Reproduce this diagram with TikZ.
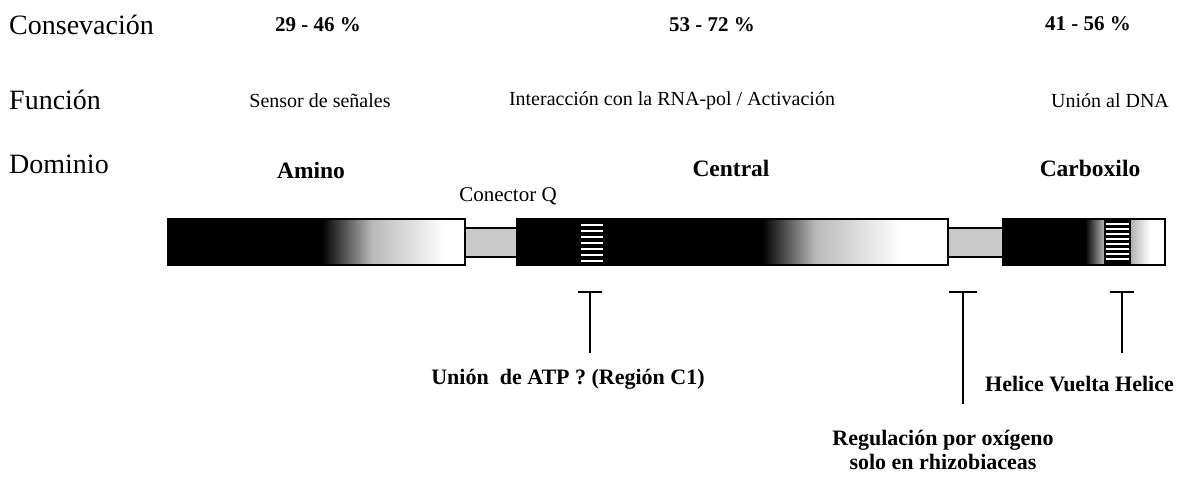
\documentclass[tikz,border=0pt]{standalone}
\usepackage{fontspec}
\setmainfont{Liberation Serif}
\begin{document}
\begin{tikzpicture}[x=1pt,y=-1pt,
  rowlab/.style={font=\fontsize{28}{32}\selectfont, anchor=west, inner sep=0pt},
  pct/.style={font=\bfseries\fontsize{21}{25}\selectfont, inner sep=0pt},
  func/.style={font=\fontsize{20}{24}\selectfont, inner sep=0pt},
  dom/.style={font=\bfseries\fontsize{23.5}{27}\selectfont, inner sep=0pt},
  conlab/.style={font=\fontsize{21}{25}\selectfont, inner sep=0pt},
  note/.style={font=\bfseries\fontsize{22}{26}\selectfont, inner sep=0pt, align=center},
  boxout/.style={draw=black, line width=2pt, fill=none, inner sep=0pt, minimum height=46pt},
  linkbox/.style={draw=black, line width=1.8pt, fill=gray!42, inner sep=0pt, minimum height=29pt},
  stripe/.style={draw=white, line width=1.1pt},
  tbar/.style={draw=black, line width=2.2pt}
]
\useasboundingbox[fill=white] (0,0) rectangle (1190,477);

% ---- row labels
\node[rowlab] (lcons) at (9,25) {Consevación};
\node[rowlab] (lfunc) at (9,100) {Función};
\node[rowlab] (ldom)  at (9,164) {Dominio};

% ---- conservation
\node[pct] (p1) at (318,25) {29 - 46 \%};
\node[pct] (p2) at (712,25) {53 - 72 \%};
\node[pct] (p3) at (1088,24) {41 - 56 \%};

% ---- function
\node[func] (f1) at (320,101) {Sensor de señales};
\node[func] (f2) at (672,101) {Interacción con la RNA-pol / Activación};
\node[func] (f3) at (1110,101) {Unión al DNA};

% ---- domain names
\node[dom] (d1) at (311,170) {Amino};
\node[dom] (d2) at (731,168) {Central};
\node[dom] (d3) at (1090,168) {Carboxilo};
\node[conlab] (dq) at (508,196) {Conector Q};

% ---- fills of the bar
% Amino
\fill[black] (168,219) rectangle (322,265);
\shade[left color=black, right color=gray!55] (322,219) rectangle (372,265);
\shade[left color=gray!55, right color=white] (372,219) rectangle (445,265);
% Central
\fill[black] (517,219) rectangle (762,265);
\shade[left color=black, right color=gray!55] (762,219) rectangle (815,265);
\shade[left color=gray!55, right color=white] (815,219) rectangle (900,265);
% Carboxilo
\fill[black] (1003,219) rectangle (1104,265);
\shade[left color=black, right color=gray!60] (1085,219) rectangle (1104,265);
\fill[black] (1104,219) rectangle (1131,265);
\shade[left color=gray!60, right color=white] (1131,219) rectangle (1150,265);

% stripes
\foreach \yy in {225,231,237,243,249,255,261}
  \draw[stripe] (581,\yy) -- (603,\yy);
\foreach \yy in {224,229,234,239,244,249,254,259}
  \draw[stripe] (1106,\yy) -- (1129,\yy);

% ---- outlines as named nodes
\node[linkbox, minimum width=53pt] (lk1) at (491.5,242.5) {};
\node[linkbox, minimum width=55pt] (lk2) at (975.5,242.5) {};
\node[boxout, minimum width=297pt] (amino) at (316.5,242) {};
\node[boxout, minimum width=431pt] (central) at (732.5,242) {};
\node[boxout, minimum width=162pt] (carbox) at (1084,242) {};

% ---- T markers
\coordinate (t1) at (590,292);  \coordinate (t1e) at (590,353);
\coordinate (t2) at (963,292);  \coordinate (t2e) at (963,404);
\coordinate (t3) at (1122,292); \coordinate (t3e) at (1122,353);
\draw[tbar] (t1) -- (t1e);
\draw[tbar] ([xshift=-12pt]t1) -- ([xshift=12pt]t1);
\draw[tbar] (t2) -- (t2e);
\draw[tbar] ([xshift=-14pt]t2) -- ([xshift=14pt]t2);
\draw[tbar] (t3) -- (t3e);
\draw[tbar] ([xshift=-12pt]t3) -- ([xshift=12pt]t3);

% ---- bottom notes
\node[note] (n1) at (568,379) {Unión\ \ de ATP ? (Región C1)};
\node[note, anchor=west] (n2) at (985,384) {Helice Vuelta Helice};
\node[note] (n3) at (943,440) {Regulación por oxígeno};
\node[note] (n4) at (943,462) {solo en rhizobiaceas};
\end{tikzpicture}
\end{document}
